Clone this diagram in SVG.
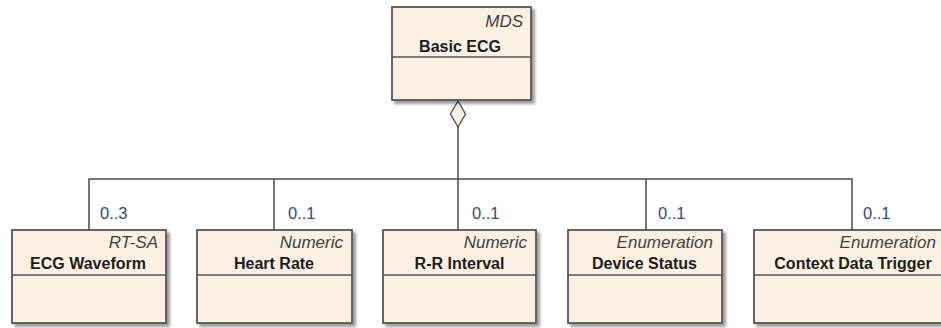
<svg xmlns="http://www.w3.org/2000/svg" width="941" height="328" viewBox="0 0 941 328">
  <style>
    .box { fill: #FBF0E2; stroke: #565656; stroke-width: 1.8; }
    .div { stroke: #565656; stroke-width: 1.5; }
    .stereo { font-family: "Liberation Sans", Arial, sans-serif; font-style: italic; font-size: 17px; fill: #404040; text-anchor: end; }
    .name { font-family: "Liberation Sans", Arial, sans-serif; font-weight: bold; font-size: 16px; fill: #1c1c1c; text-anchor: middle; }
    .mult { font-family: "Liberation Sans", Arial, sans-serif; font-size: 16.5px; fill: #3a4878; }
    .conn { fill: none; stroke: #4a4a4a; stroke-width: 1.5; }
  </style>
  <defs>
    <filter id="shadow" x="-10%" y="-10%" width="125%" height="125%">
      <feDropShadow dx="3" dy="3" stdDeviation="1.6" flood-color="#000" flood-opacity="0.4"/>
    </filter>
  </defs>

  <rect width="941" height="328" fill="#ffffff"/>

  <!-- connectors: aggregation from Basic ECG to its five children -->
  <g id="connectors">
    <path class="conn" d="M458,127 V179"/>
    <path class="conn" d="M89,230 V179 H852 V230"/>
    <path class="conn" d="M274,179 V230"/>
    <path class="conn" d="M458,179 V230"/>
    <path class="conn" d="M646,179 V230"/>
    <polygon points="458,101 465.5,114 458,127 450.5,114" fill="#FBF0E2" stroke="#4a4a4a" stroke-width="1.3"/>
    <text class="mult" x="100" y="219">0..3</text>
    <text class="mult" x="288" y="219">0..1</text>
    <text class="mult" x="472" y="219">0..1</text>
    <text class="mult" x="658" y="219">0..1</text>
    <text class="mult" x="863" y="219">0..1</text>
  </g>

  <g id="basic-ecg">
    <rect class="box" x="392" y="7" width="139" height="93" filter="url(#shadow)"/>
    <line class="div" x1="392" y1="57" x2="531" y2="57"/>
    <text class="stereo" x="523" y="27">MDS</text>
    <text class="name" x="460" y="52">Basic ECG</text>
  </g>

  <g id="ecg-waveform">
    <rect class="box" x="12" y="230" width="154" height="93" filter="url(#shadow)"/>
    <line class="div" x1="12" y1="275" x2="166" y2="275"/>
    <text class="stereo" x="158" y="248">RT-SA</text>
    <text class="name" x="88" y="269">ECG Waveform</text>
  </g>

  <g id="heart-rate">
    <rect class="box" x="197" y="230" width="155" height="93" filter="url(#shadow)"/>
    <line class="div" x1="197" y1="275" x2="352" y2="275"/>
    <text class="stereo" x="343" y="248">Numeric</text>
    <text class="name" x="274" y="269">Heart Rate</text>
  </g>

  <g id="rr-interval">
    <rect class="box" x="383" y="230" width="153" height="93" filter="url(#shadow)"/>
    <line class="div" x1="383" y1="275" x2="536" y2="275"/>
    <text class="stereo" x="527" y="248">Numeric</text>
    <text class="name" x="459.5" y="269">R-R Interval</text>
  </g>

  <g id="device-status">
    <rect class="box" x="568" y="230" width="154" height="93" filter="url(#shadow)"/>
    <line class="div" x1="568" y1="275" x2="722" y2="275"/>
    <text class="stereo" x="713" y="248">Enumeration</text>
    <text class="name" x="644.5" y="269">Device Status</text>
  </g>

  <g id="context-data-trigger">
    <rect class="box" x="754" y="230" width="196" height="93" filter="url(#shadow)"/>
    <line class="div" x1="754" y1="275" x2="950" y2="275"/>
    <text class="stereo" x="936" y="248">Enumeration</text>
    <text class="name" x="853" y="269">Context Data Trigger</text>
  </g>
</svg>
